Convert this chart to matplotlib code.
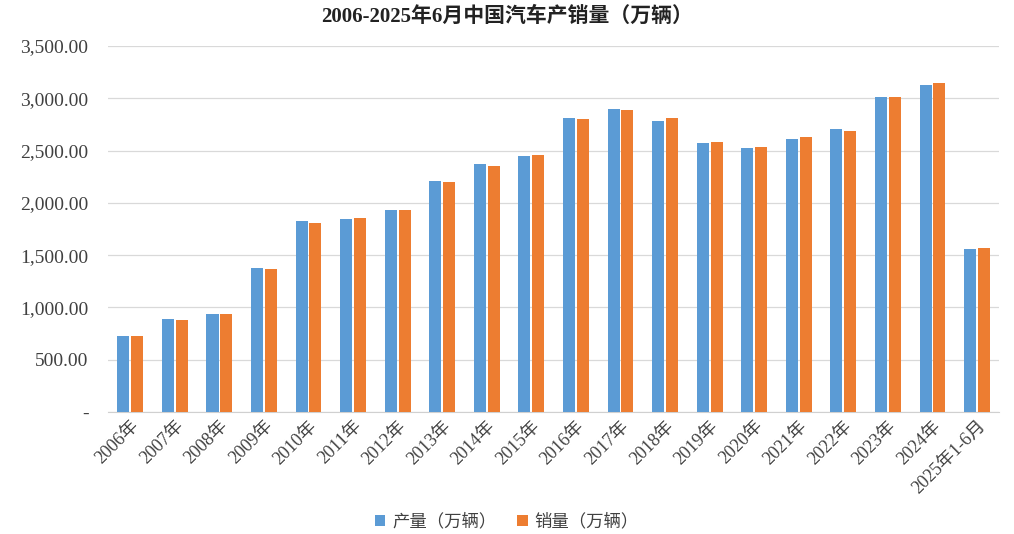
import matplotlib
matplotlib.use("Agg")
import matplotlib.pyplot as plt
from matplotlib.ticker import FuncFormatter
import numpy as np

years = ["2006年", "2007年", "2008年", "2009年", "2010年", "2011年", "2012年",
         "2013年", "2014年", "2015年", "2016年", "2017年", "2018年", "2019年",
         "2020年", "2021年", "2022年", "2023年", "2024年", "2025年1-6月"]
production = [728, 888, 935, 1379, 1826, 1842, 1927, 2212, 2372, 2450,
              2812, 2902, 2781, 2572, 2523, 2608, 2702, 3016, 3128, 1562]
sales = [722, 879, 938, 1364, 1806, 1851, 1931, 2198, 2349, 2460,
         2803, 2888, 2808, 2577, 2531, 2628, 2686, 3009, 3144, 1565]
yticks = [0, 500, 1000, 1500, 2000, 2500, 3000, 3500]

serif_cjk = ["Liberation Serif", "Noto Sans CJK SC"]
cjk = ["Noto Sans CJK SC", "DejaVu Sans"]

fig = plt.figure(figsize=(10.14, 5.34), dpi=100)
ax = fig.add_axes([0.1065, 0.2285, 0.879, 0.6854])

x = np.arange(len(years))
w = 0.27
ax.bar(x - 0.155, production, width=w, color="#5B9BD5", label="产量（万辆）", zorder=3)
ax.bar(x + 0.155, sales, width=w, color="#ED7D31", label="销量（万辆）", zorder=3)

ax.set_xlim(-0.5, len(years) - 0.5)
ax.set_ylim(0, 3500)
ax.set_yticks(yticks)
ax.yaxis.set_major_formatter(FuncFormatter(lambda v, p: "-" if v == 0 else f"{v:,.2f}"))
ax.grid(axis="y", color="#d9d9d9", linewidth=0.9, zorder=0)
for s in ["top", "right", "left"]:
    ax.spines[s].set_visible(False)
ax.spines["bottom"].set_color("#d0d0d0")
ax.tick_params(axis="y", length=0, pad=14, labelsize=14, labelcolor="#404040")
ax.tick_params(axis="x", length=0, pad=4)
for lab in ax.get_yticklabels():
    lab.set_family(serif_cjk)

ax.set_xticks(x)
ax.set_xticklabels(years, rotation=45, ha="right", rotation_mode="anchor",
                   family=serif_cjk, fontsize=13, color="#404040")

fig.text(0.5, 0.968, "2006-2025年6月中国汽车产销量（万辆）", ha="center", va="center",
         fontsize=15, fontweight="bold", family=serif_cjk, color="#222222")

leg = fig.legend(loc="center", bbox_to_anchor=(0.5, 0.024), ncol=2, frameon=False,
                 prop={"family": cjk, "size": 12.5}, handlelength=0.6, handleheight=0.6,
                 columnspacing=1.2, handletextpad=0.4)
for t in leg.get_texts():
    t.set_color("#404040")

fig.savefig("out.png", dpi=100)
